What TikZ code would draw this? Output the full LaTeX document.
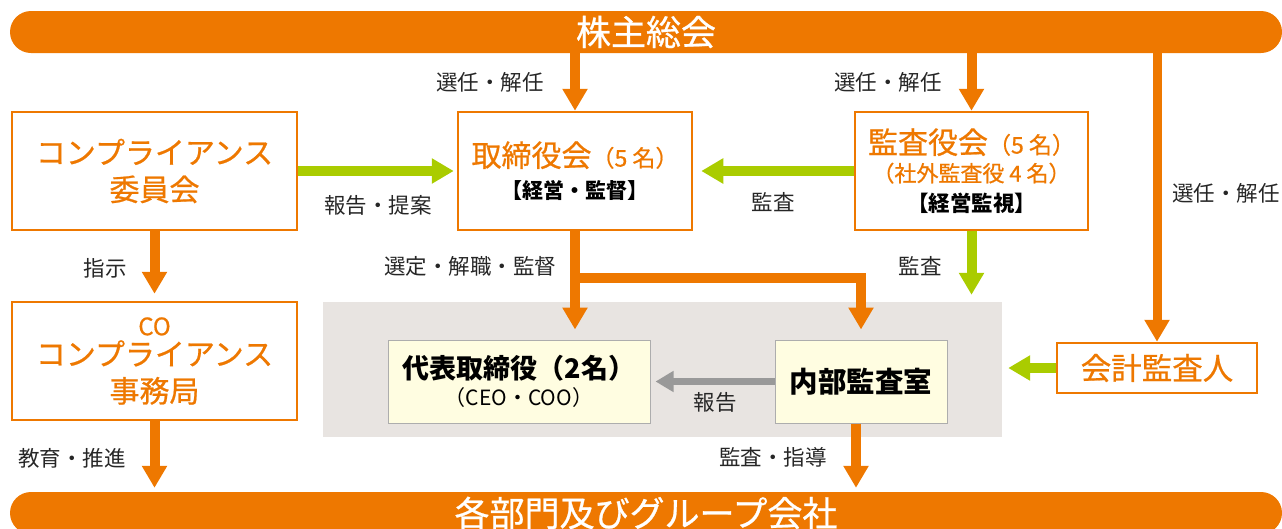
\documentclass[tikz,border=0pt]{standalone}
\usepackage{fontspec}
\setmainfont{Noto Sans CJK JP}
\newfontfamily\jpmed{Noto Sans CJK JP}[FakeBold=0.7]
\usetikzlibrary{arrows.meta}

\definecolor{corange}{HTML}{EE7800}
\definecolor{cgreen}{HTML}{AACC00}
\definecolor{cgrey}{HTML}{999999}
\definecolor{cbg}{HTML}{E8E4E1}
\definecolor{cyellow}{HTML}{FFFDE1}
\newcommand{\fsz}[2]{\fontsize{#1}{#2}\selectfont}

\begin{document}
\begin{tikzpicture}[x=1pt,y=-1pt,
  bar/.style={fill=corange,rounded corners=21pt,inner sep=0pt,minimum width=1272pt,
    minimum height=42pt,text=white,font=\fsz{35}{38}\jpmed},
  obox/.style={draw=corange,line width=2.5pt,fill=white,inner sep=0pt,align=center,
    text=corange,font=\fsz{30}{37}\jpmed},
  ybox/.style={draw=cgrey!80,line width=1pt,fill=cyellow,inner sep=0pt,align=center},
  lbl/.style={inner sep=0pt,text=black!85,font=\fsz{21.5}{24}},
  oarrow/.style={draw=corange,line width=10pt,-{Triangle[width=24pt,length=22pt]}},
  garrow/.style={draw=cgreen,line width=10pt,-{Triangle[width=24pt,length=22pt]}},
  yarrow/.style={draw=cgrey,line width=7pt,-{Triangle[width=20pt,length=18pt]}}]
\useasboundingbox (0,0) rectangle (1282,528);
\clip (0,0) rectangle (1282,528);

% Bars
\node[bar] (gm) at (646,32) {株主総会};
\node[bar] (bot) at (646,513) {各部門及びグループ会社};

% Executive area
\node[fill=cbg,inner sep=0pt,minimum width=679pt,minimum height=135pt] (corp) at (662.5,369.5) {};

% Boxes
\node[obox,minimum width=285pt,minimum height=118pt] (comm) at (154.5,171)
  {コンプライアンス\\委員会};
\node[obox,minimum width=234pt,minimum height=118pt] (board) at (575,171)
  {取締役会{\fsz{23}{26}（5 名）}\\[-5pt]{\fsz{21}{24}\normalfont\bfseries\color{black}【経営・監督】}};
\node[obox,minimum width=233pt,minimum height=118pt] (audit) at (971.5,171)
  {監査役会{\fsz{23}{26}（5 名）}\\[-9pt]{\fsz{22}{24}（社外監査役 4 名）}\\[-7pt]{\fsz{21.5}{24}\normalfont\bfseries\color{black}【経営監視】}};
\node[obox,minimum width=285pt,minimum height=118pt] (co) at (154.5,361)
  {{\fsz{24}{28}CO}\\[-7pt]コンプライアンス\\事務局};
\node[ybox,minimum width=262pt,minimum height=83pt,font=\fsz{27}{30}] (rep) at (519,381.5)
  {{\bfseries 代表取締役（2名）}\\[-3pt]{\fsz{21}{23}（CEO・COO）}};
\node[ybox,minimum width=172pt,minimum height=83pt,font=\fsz{28.5}{32}\bfseries] (ia) at (861,381.5)
  {内部監査室};
\node[obox,minimum width=200pt,minimum height=50pt,font=\fsz{30.5}{34}\jpmed] (acct) at (1157,368)
  {会計監査人};

% Arrows
\draw[oarrow] (board.north |- gm.south) -- (board.north);
\draw[oarrow] (audit.north |- gm.south) -- (audit.north);
\draw[oarrow,line width=9pt] (acct.north |- gm.south) -- (acct.north);
\draw[garrow,shorten >=3pt] (comm.east) -- (board.west);
\draw[garrow,shorten >=8pt] (audit.west) -- (board.east);
\draw[garrow,shorten >=7pt] (audit.south) -- (audit.south |- corp.north);
\draw[oarrow,shorten >=10pt] (board.south) -- (board.south |- rep.north);
\path (board.south) ++(0,47) coordinate (fork);
\draw[oarrow,shorten >=10pt] (fork) -| (ia.north);
\draw[yarrow,shorten >=5pt] (ia.west) -- (rep.east);
\draw[garrow,shorten >=6pt] (acct.west) -- (acct.west -| corp.east);
\draw[oarrow,shorten >=7pt] (comm.south) -- (co.north);
\draw[oarrow,shorten >=4pt] (co.south) -- (co.south |- bot.north);
\draw[oarrow,shorten >=4pt] ([xshift=-5pt]ia.south) -- ([xshift=-5pt]ia.south |- bot.north);

% Labels
\node[lbl] (l1) at (490,82) {選任・解任};
\node[lbl] (l2) at (888,82) {選任・解任};
\node[lbl] (l3) at (1226,193) {選任・解任};
\node[lbl] (l4) at (378,205) {報告・提案};
\node[lbl] (l5) at (773,202) {監査};
\node[lbl] (l6) at (920,266) {監査};
\node[lbl] (l7) at (470,266) {選定・解職・監督};
\node[lbl] (l8) at (105,268) {指示};
\node[lbl] (l9) at (715,402) {報告};
\node[lbl] (l10) at (72,458) {教育・推進};
\node[lbl] (l11) at (773,457) {監査・指導};
\end{tikzpicture}
\end{document}
